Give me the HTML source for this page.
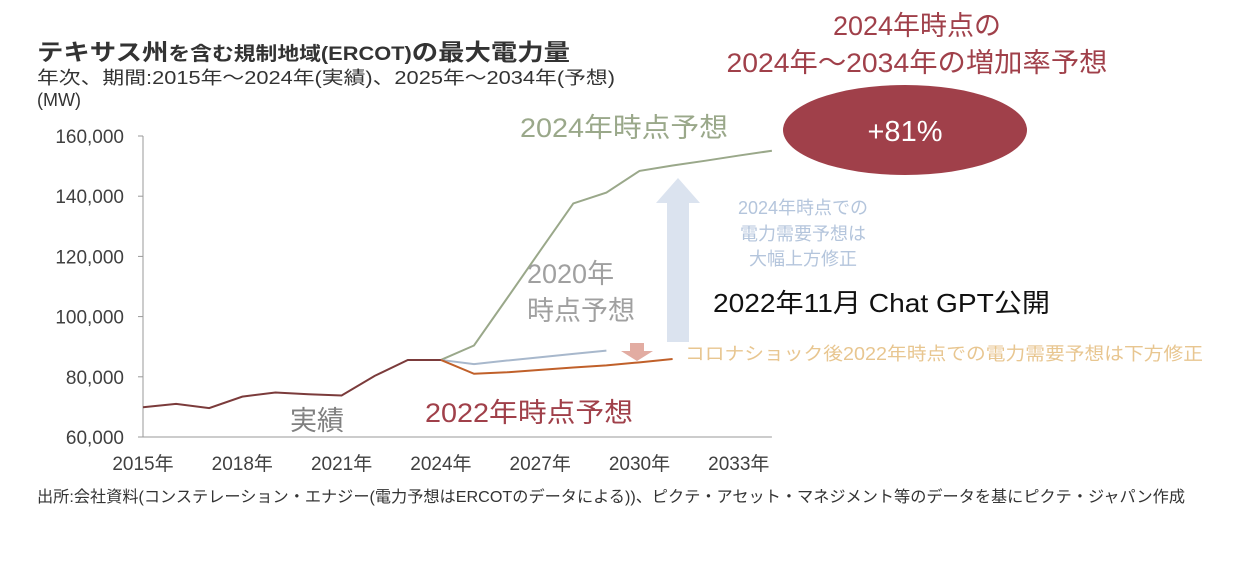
<!DOCTYPE html>
<html><head><meta charset="utf-8">
<style>
body{margin:0;background:#fff;}
svg text{font-family:"Liberation Sans","Noto Sans CJK JP",sans-serif;}
</style></head>
<body>
<svg id="chart" width="1239" height="557" xmlns="http://www.w3.org/2000/svg">
<text x="37" y="60" fill="#333" font-weight="bold" font-size="23" textLength="533" lengthAdjust="spacingAndGlyphs">テキサス州<tspan font-size="19">を含む規制地域(ERCOT)</tspan>の最大電力量</text>
<text x="37" y="84" fill="#333" font-size="18" textLength="578" lengthAdjust="spacingAndGlyphs">年次、期間:2015年～2024年(実績)、2025年～2034年(予想)</text>
<text x="37" y="106" fill="#333" font-size="18">(MW)</text>
<text x="917" y="35" fill="#a0404a" font-size="27" text-anchor="middle">2024年時点の</text>
<text x="917" y="72" fill="#a0404a" font-size="27" text-anchor="middle" textLength="381" lengthAdjust="spacingAndGlyphs">2024年～2034年の増加率予想</text>
<ellipse cx="905" cy="130" rx="122" ry="45" fill="#a0404a"/>
<text x="905" y="141" fill="#fff" font-size="29" text-anchor="middle">+81%</text>
<g id="axes"></g>
<g id="marks"></g>
<polygon points="667,342 689,342 689,203 700,203 678,178 656,203 667,203" fill="#dbe3ef"/>
<polygon points="630,343 644,343 644,351 653,351 637,361 621,351 630,351" fill="#e2aca2"/>
<text x="520" y="137" fill="#9aa88a" font-size="27" textLength="208" lengthAdjust="spacingAndGlyphs">2024年時点予想</text>
<g fill="#b4c5dc" font-size="18" text-anchor="middle">
<text x="803" y="214">2024年時点での</text>
<text x="803" y="240">電力需要予想は</text>
<text x="803" y="265">大幅上方修正</text></g>
<text x="713" y="312" fill="#111" font-size="26" textLength="337" lengthAdjust="spacingAndGlyphs">2022年11月 Chat GPT公開</text>
<text x="527" y="283" fill="#a0a0a0" font-size="27">2020年</text>
<text x="527" y="320" fill="#a0a0a0" font-size="27">時点予想</text>
<text x="685" y="360" fill="#e8c690" font-size="18" textLength="518" lengthAdjust="spacingAndGlyphs">コロナショック後2022年時点での電力需要予想は下方修正</text>
<text x="290" y="430" fill="#808080" font-size="27">実績</text>
<text x="425" y="422" fill="#a0404a" font-size="27" textLength="208" lengthAdjust="spacingAndGlyphs">2022年時点予想</text>
<text x="37" y="502" fill="#333" font-size="16" textLength="1148" lengthAdjust="spacingAndGlyphs">出所:会社資料(コンステレーション・エナジー(電力予想はERCOTのデータによる))、ピクテ・アセット・マネジメント等のデータを基にピクテ・ジャパン作成</text>
</svg>
<script>
const actualYears=[2015,2016,2017,2018,2019,2020,2021,2022,2023,2024];
const actualValues=[69900,71000,69600,73400,74800,74200,73800,80300,85600,85600];
const f2024Years=[2024,2025,2026,2027,2028,2029,2030,2031,2032,2033,2034];
const f2024Values=[85600,90400,106100,121900,137600,141200,148400,150200,151800,153500,155100];
const f2020Years=[2024,2025,2026,2027,2028,2029];
const f2020Values=[85600,84200,85400,86500,87600,88700];
const f2022Years=[2024,2025,2026,2027,2028,2029,2030,2031];
const f2022Values=[85600,81000,81500,82300,83100,83800,84800,85900];
const yTicks=[60000,80000,100000,120000,140000,160000];
const yTickLabels=["60,000","80,000","100,000","120,000","140,000","160,000"];
const xTicks=[2015,2018,2021,2024,2027,2030,2033];
const xTickLabels=["2015年","2018年","2021年","2024年","2027年","2030年","2033年"];
const NS="http://www.w3.org/2000/svg";
const X0=143,XS=33.1,Y0=437,YS=301/100000;
const xs=y=>X0+(y-2015)*XS;
const ys=v=>Y0-(v-60000)*YS;
function mk(tag,attrs,parent){const e=document.createElementNS(NS,tag);for(const k in attrs)e.setAttribute(k,attrs[k]);parent.appendChild(e);return e;}
const ax=document.getElementById('axes');
let l=mk('line',{x1:X0,y1:ys(160000),x2:X0,y2:Y0,stroke:'#999','stroke-width':1},ax);


l=mk('line',{x1:X0,y1:Y0,x2:xs(2034),y2:Y0,stroke:'#999','stroke-width':1},ax);


yTicks.forEach((v,i)=>{
 const t=mk('line',{x1:X0-5,x2:X0,y1:ys(v),y2:ys(v),stroke:'#999'},ax);
 
 
 const tx=mk('text',{x:124,y:ys(v)+7,'text-anchor':'end','font-size':19,fill:'#404040'},ax);
 tx.textContent=yTickLabels[i];
 
 
});
xTicks.forEach((y,i)=>{
 const tx=mk('text',{x:xs(y),y:470,'text-anchor':'middle','font-size':19,fill:'#404040'},ax);
 tx.textContent=xTickLabels[i];
 
 
});
const mg=document.getElementById('marks');
function series(years,vals,color,name){
 const p=mk('polyline',{points:years.map((y,i)=>xs(y)+','+ys(vals[i])).join(' '),fill:'none',stroke:color,'stroke-width':2},mg);
 
 
}
series(f2024Years,f2024Values,'#9aa88a','line-2024-forecast');
series(f2020Years,f2020Values,'#a8b8cc','line-2020-forecast');
series(f2022Years,f2022Values,'#c0602a','line-2022-forecast');
series(actualYears,actualValues,'#7b3b3b','line-actual');
</script>
</body></html>
